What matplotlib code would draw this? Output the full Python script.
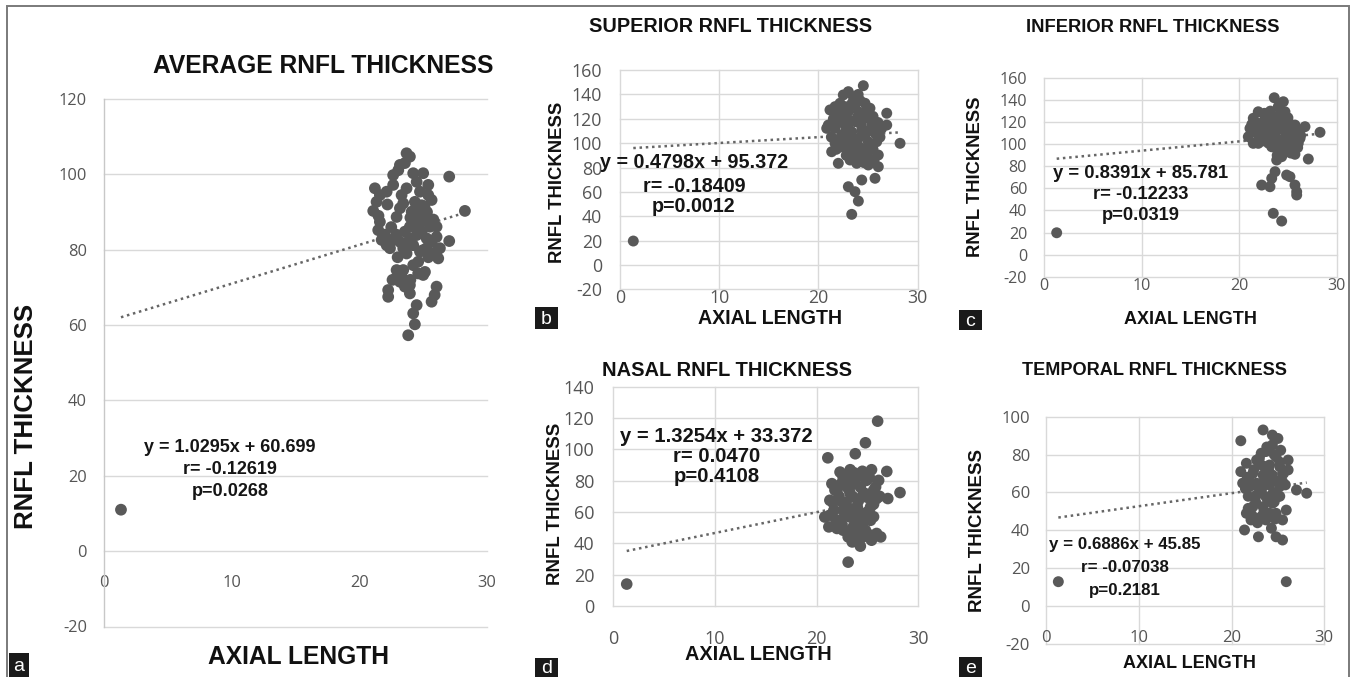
import matplotlib
matplotlib.use("Agg")
import matplotlib.pyplot as plt
from matplotlib.patches import Rectangle

plt.rcParams["axes.unicode_minus"] = False

# ---------------- data ----------------
x_ticks = [0, 10, 20, 30]

# (a) average RNFL
a_x = [23.70, 23.96, 23.18, 23.57, 27.04, 21.22, 22.65, 24.22, 25.00, 25.40, 25.66, 21.61, 21.35, 21.09,
       23.31, 23.44, 23.18, 24.35, 24.88, 25.00, 24.61, 25.27, 28.27, 21.61, 21.48, 21.75, 22.14, 22.65,
       23.18, 23.57, 23.96, 24.49, 24.88, 25.53, 26.05, 26.05, 25.66, 27.04, 23.44, 24.22, 25.00, 26.05,
       26.18, 23.70, 22.92, 23.44, 24.22, 24.61, 25.00, 23.18, 23.57, 23.96, 22.26, 22.26, 26.05, 25.66,
       24.49, 24.22, 24.35, 23.83, 23.05, 24.49, 24.10, 24.49, 24.75, 23.96, 25.27, 21.87, 23.83, 24.75,
       25.27, 24.61, 25.14, 23.31, 23.96, 22.65, 22.14, 23.70, 24.75, 25.40, 22.92, 26.31, 24.22, 22.40,
       24.80, 25.10, 24.50, 25.30, 24.90, 24.00, 22.50, 22.90, 24.40, 25.80, 22.00, 25.40, 23.00, 24.00,
       22.60, 25.90, 21.50, 22.20,
       1.33]
a_y = [105.6, 104.7, 102.5, 103.0, 99.4, 96.3, 99.8, 100.3, 100.3, 97.2, 93.2, 94.5, 92.7, 90.3,
       94.5, 92.3, 91.0, 92.7, 91.8, 89.6, 88.3, 88.3, 90.3, 87.4, 85.2, 82.6, 81.2, 82.6,
       82.1, 84.8, 86.1, 83.9, 84.8, 86.1, 86.1, 83.4, 82.1, 82.3, 80.4, 81.2, 79.9, 79.5,
       77.7, 79.0, 74.6, 74.6, 75.9, 73.7, 73.3, 71.5, 70.2, 68.4, 69.3, 67.5, 70.2, 66.2,
       65.3, 63.1, 60.2, 57.3, 101.1, 98.0, 90.1, 90.1, 87.4, 83.0, 83.0, 83.9, 81.2, 79.5,
       80.4, 76.8, 74.1, 72.8, 70.6, 97.2, 95.4, 96.3, 95.4, 94.5, 88.7, 80.4, 86.5, 80.4,
       90.5, 91.5, 89.0, 90.0, 87.5, 88.5, 86.0, 84.0, 86.0, 88.0, 84.0, 78.0, 78.0, 72.0,
       72.0, 68.0, 89.0, 92.0,
       11.0]

# (b) superior RNFL
b_x = [24.52, 23.01, 22.50, 23.51, 21.67, 21.16, 22.17, 24.69, 25.19, 26.88, 20.99, 20.83, 26.88, 28.22,
       21.67, 21.33, 22.00, 23.18, 23.85, 25.02, 26.03, 25.70, 24.36, 23.01, 23.68, 24.02, 23.35, 26.03,
       22.34, 23.01, 24.02, 24.69, 25.37, 25.70, 25.87, 25.02, 24.02, 23.35, 22.67, 22.00, 21.67, 22.34,
       23.01, 23.68, 24.36, 25.02, 23.68, 24.36, 23.01, 22.50, 25.02, 24.02, 26.37, 24.69, 23.01, 23.68,
       24.19, 25.37, 23.35,
       21.5, 22.0, 22.7, 23.4, 24.2, 24.9, 25.5, 26.0, 26.2, 25.5, 24.8, 24.0, 23.3, 22.6, 22.0, 21.8,
       22.8, 23.6, 24.6, 25.6, 24.3, 23.0, 25.8, 24.0, 22.8, 23.9, 25.0, 21.3, 22.3, 23.8,
       1.34]
b_y = [147.2, 142.3, 139.6, 138.2, 130.0, 127.3, 132.8, 132.8, 128.7, 124.6, 114.9, 112.2, 114.9, 99.9,
       99.9, 93.0, 83.5, 86.2, 83.5, 82.1, 80.7, 71.2, 69.8, 64.3, 60.2, 52.5, 41.6, 90.3,
       123.2, 125.9, 125.9, 120.4, 114.9, 108.1, 101.2, 101.2, 104.0, 109.4, 114.9, 117.7, 112.2, 106.7,
       101.2, 95.8, 90.3, 93.0, 117.7, 110.8, 93.0, 98.5, 87.6, 86.2, 112.2, 106.7, 119.0, 131.4,
       123.2, 98.5, 88.9,
       120, 125, 130, 133, 135, 128, 122, 117, 105, 95, 96, 98, 104, 108, 103, 95,
       90, 86, 84, 86, 115, 112, 112, 140, 120, 121, 110, 105, 97, 92,
       19.7]

# (c) inferior RNFL
c_x = [23.60, 24.53, 24.01, 21.96, 21.45, 21.11, 20.94, 21.45, 22.65, 26.75, 28.29, 26.06, 25.72, 27.09,
       24.36, 23.68, 23.34, 22.31, 23.16, 24.87, 25.21, 25.72, 25.90, 25.90, 23.50, 24.36,
       22.65, 23.34, 24.01, 24.70, 25.04, 25.72, 26.06, 25.39, 24.70, 24.01, 23.34, 22.31, 21.96, 21.63,
       22.99, 23.68, 24.36, 25.04, 24.01, 23.34, 24.70, 25.39, 23.68, 22.99, 24.36, 21.96, 26.24, 23.85,
       22.0, 22.5, 23.0, 23.5, 24.2, 25.0, 25.6, 26.3, 26.0, 25.3, 24.7, 23.9, 23.0, 22.4, 21.7, 21.3,
       23.2, 24.0, 24.6, 25.0, 23.5, 24.4, 22.6, 23.9, 24.8,
       1.30]
c_y = [142.1, 138.5, 134.0, 129.4, 123.5, 114.4, 106.8, 100.8, 105.3, 115.9, 110.8, 100.8, 90.9, 86.6,
       88.7, 75.1, 69.1, 63.0, 61.5, 72.1, 70.6, 63.0, 57.0, 54.0, 37.4, 30.4,
       123.5, 126.4, 124.9, 129.4, 120.4, 117.4, 111.3, 108.3, 111.3, 114.4, 115.9, 114.4, 118.9, 111.3,
       108.3, 102.3, 99.3, 96.3, 93.2, 97.7, 105.3, 102.3, 108.3, 120.4, 120.4, 100.8, 105.3, 85.7,
       108, 112, 117, 122, 127, 124, 114, 108, 97, 92, 93, 96, 101, 103, 115, 118,
       130, 118, 116, 110, 112, 104, 128, 90, 100,
       19.8]

# (d) nasal RNFL
d_x = [26.0, 24.8, 23.8, 21.1, 26.9, 28.2, 27.0, 26.1, 25.4, 23.3, 22.3, 21.5, 21.3, 20.8, 21.2, 22.0,
       23.1, 23.5, 24.3, 25.4, 26.3, 25.3, 23.1,
       22.6, 24.0, 24.9, 22.0, 23.0, 24.3, 25.6, 25.9, 24.9, 23.6, 22.5, 21.7, 22.6, 24.0, 25.3, 24.6,
       23.3, 22.3, 24.3, 25.3, 23.6, 22.6, 24.8, 25.9, 24.0, 23.3, 24.6,
       21.8, 22.4, 23.0, 23.7, 24.5, 25.2, 25.8, 26.2, 25.6, 25.0, 24.3, 23.6, 22.9, 22.2, 21.6, 21.3,
       21.9, 22.8, 23.8, 24.7, 25.6, 24.1, 23.2, 24.7, 25.4, 22.5, 23.2, 24.3, 25.1, 23.5,
       1.32]
d_y = [118.0, 104.2, 97.2, 94.6, 85.9, 72.4, 68.6, 80.2, 87.0, 87.0, 85.5, 78.1, 67.5, 56.8, 50.5, 49.5,
       44.1, 40.9, 38.2, 42.0, 44.1, 45.2, 28.0,
       82.3, 82.3, 80.2, 73.8, 75.9, 75.9, 73.8, 68.6, 69.6, 69.6, 66.4, 61.1, 61.1, 63.2, 63.2, 59.0,
       56.8, 54.7, 52.6, 54.7, 50.5, 48.4, 48.4, 46.3, 46.3, 71.7, 71.7,
       74, 78, 82, 85, 86, 82, 76, 70, 65, 60, 58, 62, 66, 70, 66, 58,
       55, 58, 53, 55, 57, 67, 74, 72, 70, 52, 48, 43, 44, 78,
       14.0]

# (e) temporal RNFL
e_x = [23.4, 21.0, 24.4, 25.0, 25.3, 26.1, 24.4, 23.7, 23.2, 21.6, 21.0, 27.0, 28.1, 26.1, 25.5, 21.2,
       21.9, 25.9, 25.5, 25.0, 21.6, 22.1, 21.4, 24.3, 22.9, 24.8, 25.5, 25.9,
       23.0, 24.1, 25.2, 22.3, 23.4, 24.4, 25.5, 21.9, 23.0, 24.1, 25.2, 22.7, 23.7, 24.4, 23.4, 22.3,
       24.1, 24.8, 23.2, 23.7, 21.8, 23.4, 24.8, 22.7, 22.7,
       21.7, 22.4, 23.0, 23.8, 24.6, 25.2, 25.6, 25.8, 25.2, 24.6, 23.9, 23.2, 22.5, 21.8, 22.2, 22.8,
       23.5, 24.5, 23.6, 24.9, 22.6, 24.0, 23.4, 24.7, 21.5,
       1.33]
e_y = [93.0, 87.3, 90.3, 88.5, 82.3, 77.1, 85.1, 81.6, 80.7, 75.4, 71.0, 61.3, 59.6, 71.9, 65.7, 64.9,
       66.6, 50.7, 45.5, 57.8, 49.0, 45.5, 40.2, 41.1, 36.6, 36.6, 34.9, 12.9,
       75.4, 74.5, 73.6, 70.1, 69.2, 69.2, 70.1, 63.1, 63.1, 64.0, 63.1, 58.7, 57.8, 54.3, 52.5, 52.5,
       49.0, 49.0, 47.2, 45.5, 51.6, 63.1, 78.8, 77.1, 64.9,
       68, 72, 78, 84, 80, 76, 70, 64, 58, 55, 56, 60, 64, 58, 48, 44,
       50, 60, 66, 66, 55, 72, 74, 46, 62,
       12.9]

slopes = [1.0295, 0.4798, 0.8391, 1.3254, 0.6886]
intercepts = [60.699, 95.372, 85.781, 33.372, 45.85]
titles = ["AVERAGE RNFL THICKNESS", "SUPERIOR RNFL THICKNESS", "INFERIOR RNFL THICKNESS",
          "NASAL RNFL THICKNESS", "TEMPORAL RNFL THICKNESS"]
eq_texts = ["y = 1.0295x + 60.699", "y = 0.4798x + 95.372", "y = 0.8391x + 85.781",
            "y = 1.3254x + 33.372", "y = 0.6886x + 45.85"]
r_texts = ["r= -0.12619", "r= -0.18409", "r= -0.12233", "r= 0.0470", "r= -0.07038"]
p_texts = ["p=0.0268", "p=0.0012", "p=0.0319", "p=0.4108", "p=0.2181"]
panel_letters = ["a", "b", "c", "d", "e"]
y_limits = [(-20, 120), (-20, 160), (-20, 160), (0, 140), (-20, 100)]
y_steps = [20, 20, 20, 20, 20]
xs = [a_x, b_x, c_x, d_x, e_x]
ys = [a_y, b_y, c_y, d_y, e_y]

# ---------------- layout (pixels) ----------------
W, H = 1354, 677
rects = [(104, 487, 99, 626.5), (620, 917.7, 70.1, 289.4), (1044, 1336.7, 78, 276.7),
         (613.3, 918.3, 386.7, 606), (1046, 1324.3, 416.7, 644)]
title_pos = [(323, 66, 17.7), (731, 27, 14.3), (1153, 27, 13.2), (727.5, 371, 14.5), (1154, 371, 13.1)]
ylab_pos = [(26, 416, 18.6), (557, 182, 13.3), (975, 177, 13.2), (555, 504, 13.4), (977, 530, 13.5)]
xlab_pos = [(299, 657, 17.7), (770, 318, 14.1), (1190, 320, 13.0), (758, 655, 14.3), (1189, 663, 13.0)]
ann_pos = [(230, [448, 470, 491], 13.0), (694, [163, 186, 207], 14.2), (1141, [174, 195, 216], 13.2),
           (716.5, [436, 457, 477], 14.6), (1125, [544, 567, 590], 12.2)]
tick_fs = [11.8, 12.8, 11.6, 13.0, 12.0]
ytick_pad = [12.2, 13.0, 12.2, 13.5, 11.5]
msizes = [72, 62, 62, 70, 62]
letter_boxes = [(9, 29, 653, 677), (535, 558, 307, 329), (959, 982, 310, 330),
                (535, 558, 658, 677), (959, 982, 657, 677)]

BOLD = "Liberation Sans"
TICKF = "Open Sans"
GRID = "#d9d9d9"
TICKC = "#555555"
MARK = "#595959"

fig = plt.figure(figsize=(W / 100, H / 100), dpi=100)
fig.patch.set_facecolor("white")


def frac(rect, px, py):
    x0, x1, yt, yb = rect
    return (px - x0) / (x1 - x0), (yb - py) / (yb - yt)


for i in range(5):
    x0, x1, yt, yb = rects[i]
    ax = fig.add_axes([x0 / W, 1 - yb / H, (x1 - x0) / W, (yb - yt) / H])
    ax.set_facecolor("none")
    lo, hi = y_limits[i]
    ax.set_xlim(0, 30)
    ax.set_ylim(lo, hi)
    ax.set_yticks(list(range(lo, hi + 1, y_steps[i])))
    ax.set_xticks(x_ticks)
    for s in ax.spines.values():
        s.set_visible(False)
    ax.spines["bottom"].set_position(("data", 0))
    if i == 0:
        ax.grid(axis="y", color=GRID, lw=1.0, clip_on=False)
        ax.spines["left"].set_visible(True)
        ax.spines["left"].set_color("#c8c8c8")
        ax.spines["left"].set_linewidth(1.0)
    else:
        ax.grid(axis="both", color=GRID, lw=1.0, clip_on=False)
    ax.set_axisbelow(True)
    ax.tick_params(axis="both", length=0, labelsize=tick_fs[i], labelcolor=TICKC)
    ax.tick_params(axis="y", pad=ytick_pad[i])
    ax.tick_params(axis="x", pad=17.0)
    for lab in ax.get_xticklabels() + ax.get_yticklabels():
        lab.set_fontfamily(TICKF)

    xmin, xmax = min(xs[i]), max(xs[i])
    ax.plot([xmin, xmax], [slopes[i] * xmin + intercepts[i], slopes[i] * xmax + intercepts[i]],
            linestyle=(0, (1.0, 1.5)), color="#666666", lw=1.8, zorder=2)
    ax.scatter(xs[i], ys[i], s=msizes[i], color=MARK, edgecolors="none", zorder=3)

    tx, ty, tfs = title_pos[i]
    fx, fy = frac(rects[i], tx, ty)
    ax.set_title(titles[i], x=fx, y=fy, va="center", ha="center", pad=0,
                 fontsize=tfs, fontweight="bold", fontfamily=BOLD, color="#111111")
    lx, ly, lfs = xlab_pos[i]
    ax.set_xlabel("AXIAL LENGTH", fontsize=lfs, fontweight="bold", fontfamily=BOLD,
                  color="#111111", va="center", ha="center")
    ax.xaxis.set_label_coords(*frac(rects[i], lx, ly))
    vx, vy, vfs = ylab_pos[i]
    ax.set_ylabel("RNFL THICKNESS", fontsize=vfs, fontweight="bold", fontfamily=BOLD,
                  color="#111111", va="center", ha="center")
    ax.yaxis.set_label_coords(*frac(rects[i], vx, vy))
    cx, rows, afs = ann_pos[i]
    for txt, ry in zip([eq_texts[i], r_texts[i], p_texts[i]], rows):
        fx, fy = frac(rects[i], cx, ry)
        ax.text(fx, fy, txt, transform=ax.transAxes, ha="center", va="center",
                fontsize=afs, fontweight="bold", fontfamily=BOLD, color="#151515",
                zorder=5, clip_on=False)

    bx0, bx1, by0, by1 = letter_boxes[i]
    fig.patches.append(Rectangle((bx0 / W, 1 - by1 / H), (bx1 - bx0) / W, (by1 - by0) / H,
                                 transform=fig.transFigure, facecolor="#1a1a1a",
                                 edgecolor="none", zorder=10))
    fig.text((bx0 + bx1) / 2 / W, 1 - (by0 + by1) / 2 / H - 0.002, panel_letters[i],
             ha="center", va="center", color="white", fontsize=14, fontfamily=BOLD, zorder=11)

fig.patches.append(Rectangle((7 / W, -0.01), (1349 - 7) / W, 1 - 6 / H + 0.01,
                             transform=fig.transFigure, fill=False, edgecolor="#7a7a7a",
                             lw=1.4, zorder=0))

fig.savefig("out.png", dpi=100, facecolor="white")
